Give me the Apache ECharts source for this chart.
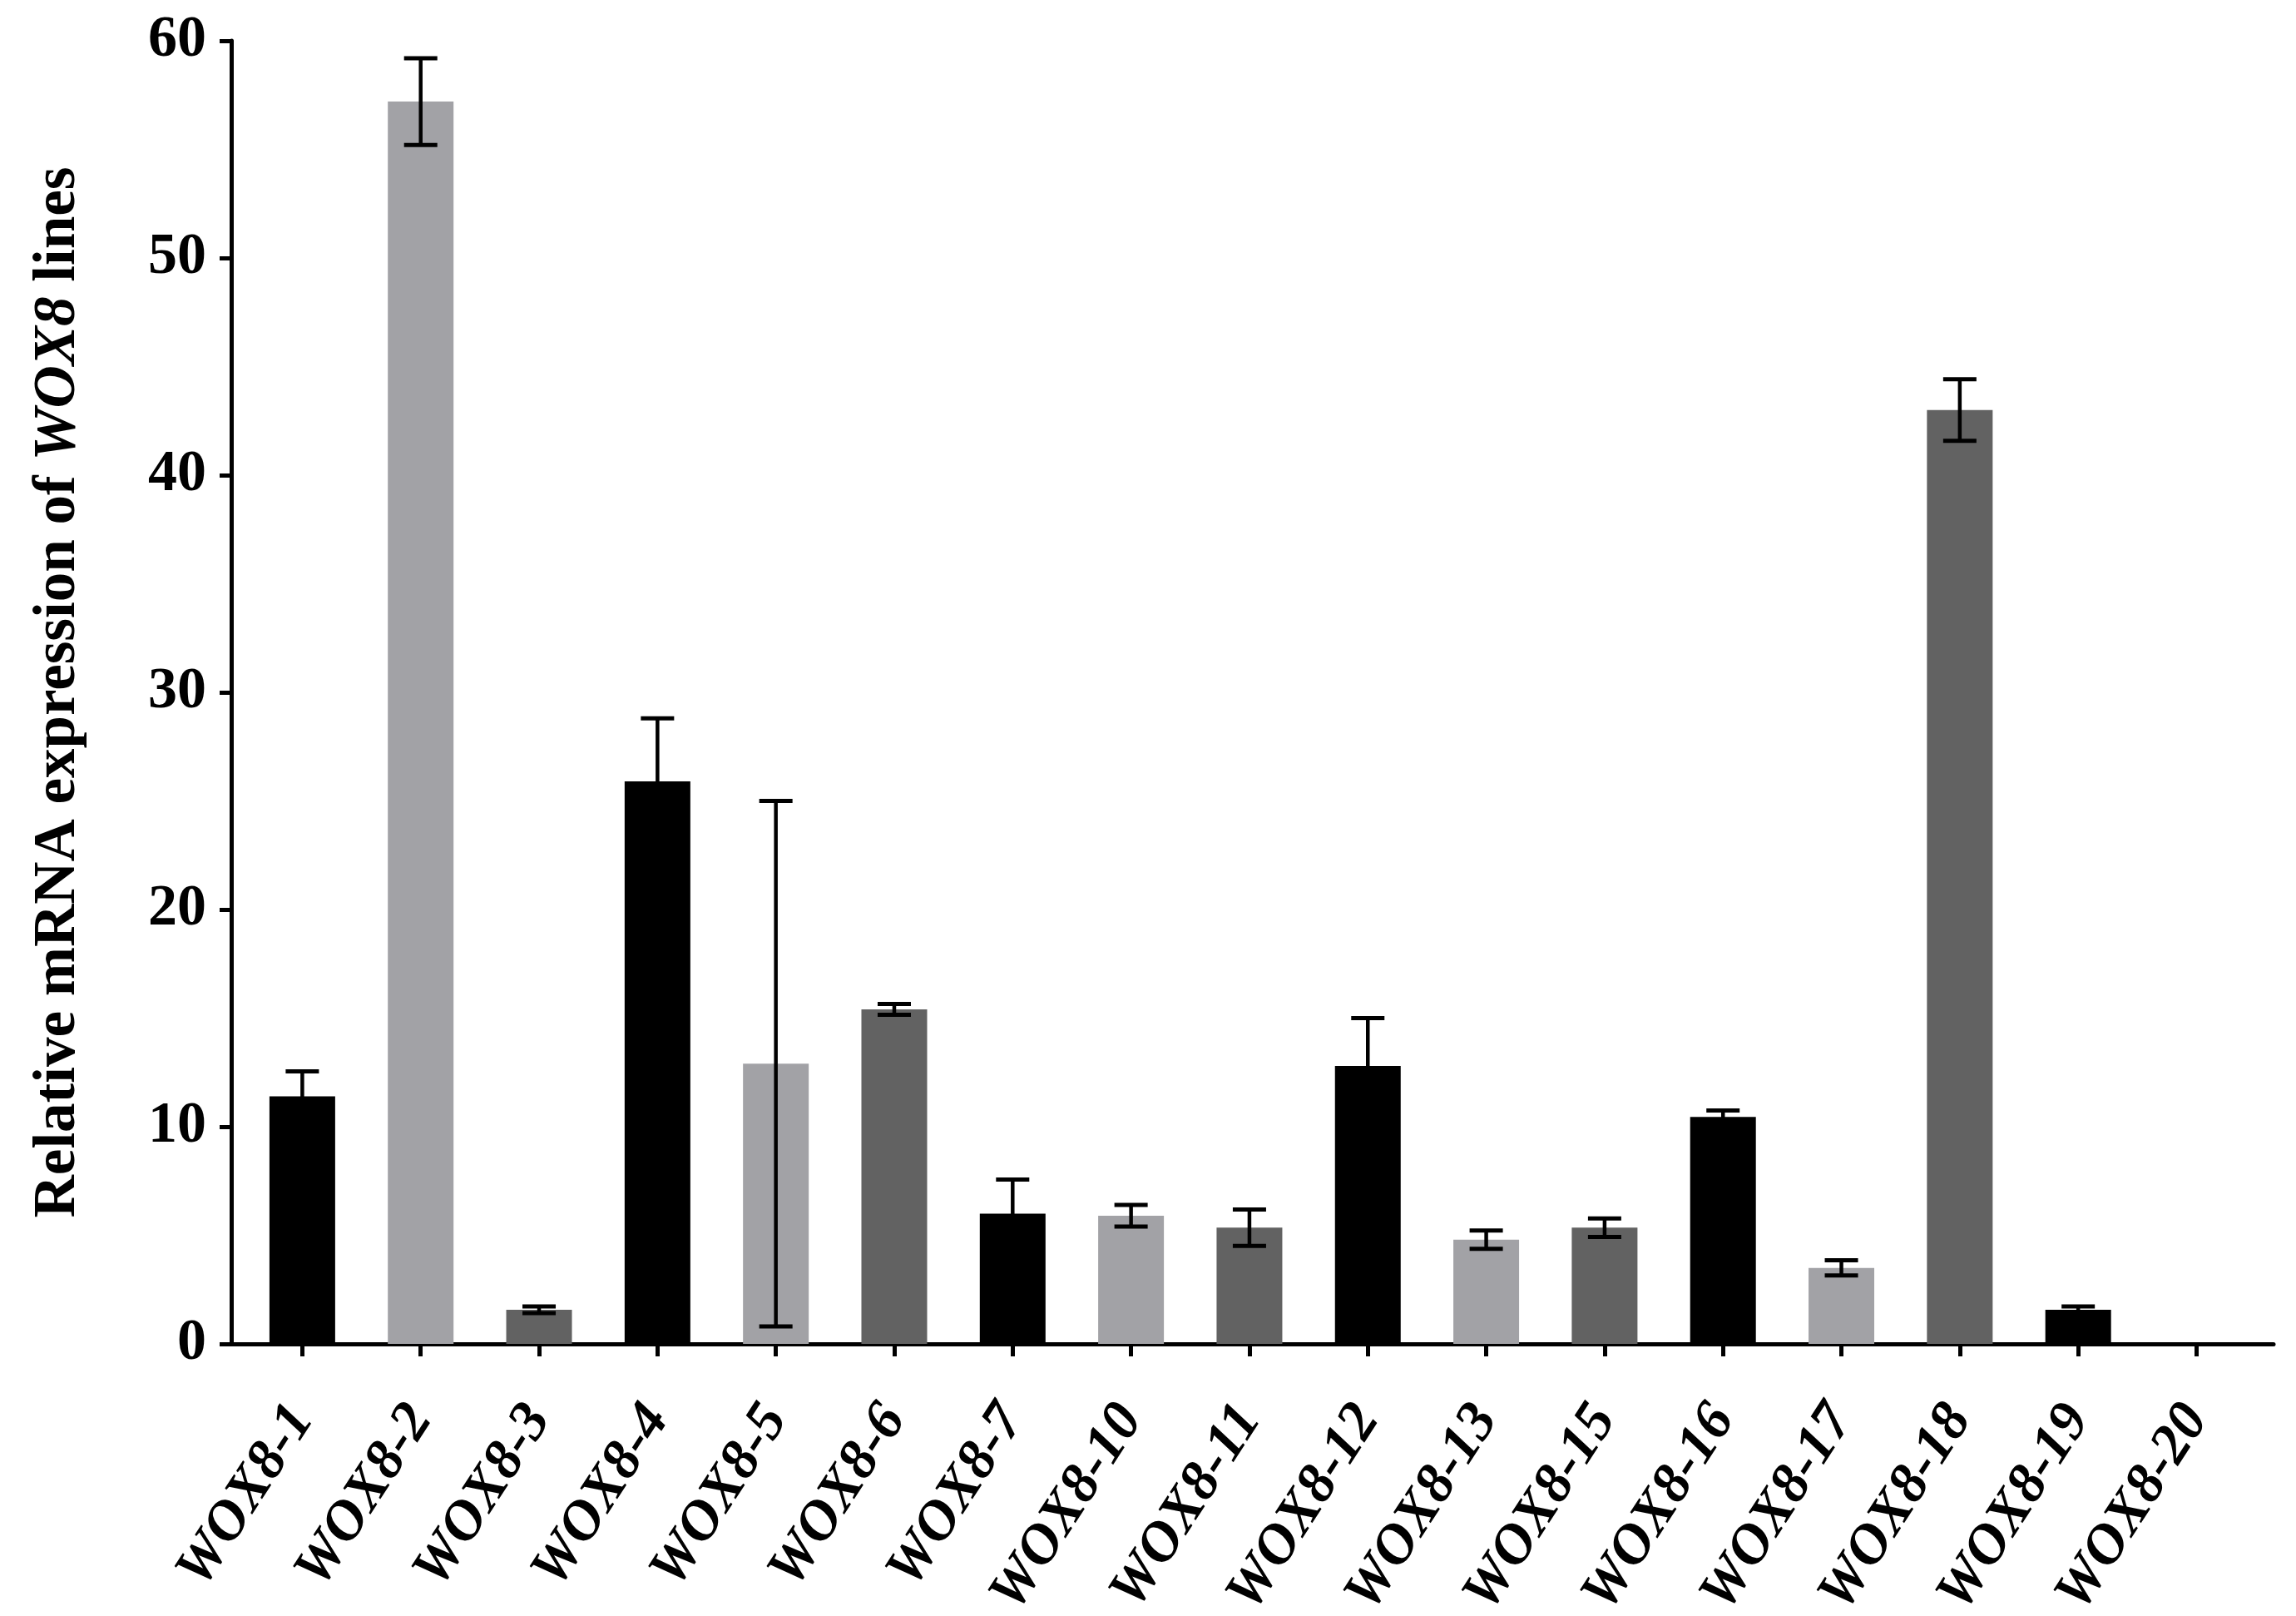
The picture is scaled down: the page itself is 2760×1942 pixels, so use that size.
<!DOCTYPE html>
<html>
<head>
<meta charset="utf-8">
<script src="https://cdn.jsdelivr.net/npm/echarts@6/dist/echarts.min.js"></script>
<style>html,body{margin:0;padding:0;background:#fff;}#c{width:2760px;height:1942px;}</style>
</head>
<body>
<div id="c"></div>
<script>
const categories = ['WOX8-1','WOX8-2','WOX8-3','WOX8-4','WOX8-5','WOX8-6','WOX8-7','WOX8-10','WOX8-11','WOX8-12','WOX8-13','WOX8-15','WOX8-16','WOX8-17','WOX8-18','WOX8-19','WOX8-20'];
const means = [11.4, 57.2, 1.57, 25.9, 12.9, 15.4, 6.0, 5.9, 5.35, 12.8, 4.8, 5.35, 10.45, 3.5, 43.0, 1.57, 0];
const sds   = [1.15, 2.0, 0.15, 2.9, 12.1, 0.25, 1.57, 0.5, 0.84, 2.2, 0.42, 0.43, 0.3, 0.35, 1.42, 0.15, 0];
const yMin = 0, yMax = 60, yStep = 10;

const palette = ['#000000', '#a2a2a6', '#626262'];
const FONT = 'Liberation Serif';

const chart = echarts.init(document.getElementById('c'), null, {renderer: 'canvas'});
const idx = categories.map((c, i) => i);

const option = {
  animation: false,
  backgroundColor: '#ffffff',
  grid: {left: 278, top: 49, width: 2455, height: 1566, containLabel: false, outerBoundsMode: 'none'},
  xAxis: {
    type: 'value',
    min: -0.6, max: 16.65,
    splitLine: {show: false},
    axisLine: {show: true, onZero: false, lineStyle: {color: '#000', width: 5}},
    axisTick: {show: true, customValues: idx, length: 15, lineStyle: {color: '#000', width: 5}},
    axisLabel: {
      show: true, customValues: idx,
      formatter: v => categories[Math.round(v)] || '',
      rotate: 57, margin: 80,
      fontFamily: FONT, fontWeight: 'bold', fontStyle: 'italic', fontSize: 68, color: '#000'
    }
  },
  yAxis: {
    type: 'value', min: yMin, max: yMax, interval: yStep,
    splitLine: {show: false},
    axisLine: {show: true, onZero: false, lineStyle: {color: '#000', width: 5}},
    axisTick: {show: true, length: 14, lineStyle: {color: '#000', width: 5}},
    axisLabel: {margin: 30, fontFamily: FONT, fontWeight: 'bold', fontSize: 70, color: '#000'},
    name: '{a|Relative mRNA expression of }{b|WOX8}{a| lines}',
    nameLocation: 'middle',
    nameRotate: 90,
    nameGap: 172,
    nameTextStyle: {
      rich: {
        a: {fontFamily: FONT, fontWeight: 'bold', fontSize: 71, color: '#000'},
        b: {fontFamily: FONT, fontWeight: 'bold', fontStyle: 'italic', fontSize: 71, color: '#000'}
      }
    }
  },
  series: [
    {
      type: 'bar',
      barWidth: 79,
      data: means.map((v, i) => ({value: [i, v], itemStyle: {color: palette[i % 3]}})),
      z: 2
    },
    {
      type: 'custom',
      z: 5,
      encode: {x: 0, y: 1},
      data: means.map((v, i) => [i, v, sds[i]]),
      renderItem: function (params, api) {
        const x = api.value(0), m = api.value(1), s = api.value(2);
        if (!(s > 0)) return {type: 'group', children: []};
        const top = api.coord([x, m + s]);
        const bot = api.coord([x, m - s]);
        const hw = 20;
        const st = {stroke: '#000', lineWidth: 5};
        return {
          type: 'group',
          children: [
            {type: 'line', shape: {x1: top[0], y1: top[1], x2: bot[0], y2: bot[1]}, style: {stroke: '#000', lineWidth: 4.5}},
            {type: 'line', shape: {x1: top[0] - hw, y1: top[1], x2: top[0] + hw, y2: top[1]}, style: st},
            {type: 'line', shape: {x1: bot[0] - hw, y1: bot[1], x2: bot[0] + hw, y2: bot[1]}, style: st}
          ]
        };
      }
    }
  ]
};
chart.setOption(option);
</script>
</body>
</html>
